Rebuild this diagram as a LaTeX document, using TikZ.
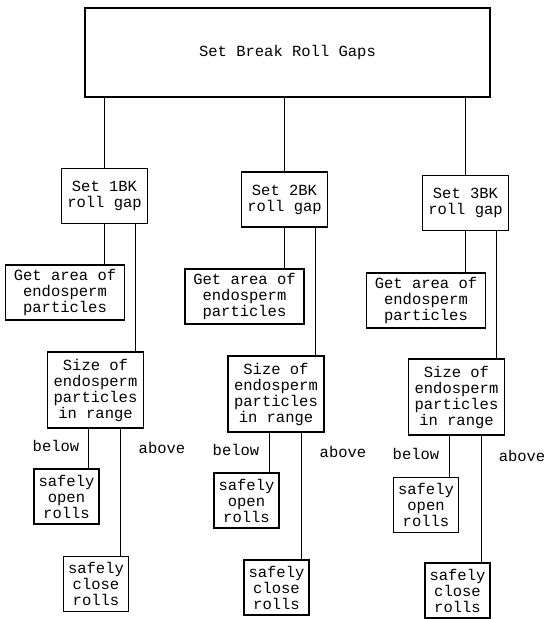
\documentclass[tikz,border=0pt]{standalone}
\usepackage{fontspec}
\usepackage{tikz}
\usetikzlibrary{calc}
\usetikzlibrary{positioning}
\newfontfamily\flowfont{Liberation Mono}
\tikzset{>=latex}
\tikzstyle{box} = [draw, line width=1.3pt, align=center, inner sep=2pt, font=\flowfont\fontsize{15.5}{16}\selectfont]
\tikzstyle{setbox} = [box, minimum width=86pt, minimum height=55pt]
\tikzstyle{getbox} = [box, minimum width=119pt, minimum height=55pt]
\tikzstyle{sizebox} = [box, minimum width=96pt, minimum height=76pt]
\tikzstyle{rollbox} = [box, minimum width=65pt, minimum height=55pt]
\tikzstyle{lab} = [font=\flowfont\fontsize{15.5}{16}\selectfont]
\tikzstyle{link} = [-, line width=1pt]

\begin{document}
\begin{tikzpicture}[x=1pt, y=-1pt]
\useasboundingbox (0, 0) rectangle (550, 619);
\node [box, minimum width=405pt, minimum height=89pt] (top) at (287.5, 52.5) {Set Break Roll Gaps};
% column 1
\node [setbox] (set1) at (104.5, 196) {Set 1BK\\roll gap};
\node [getbox] (get1) at (65, 292.5) {Get area of\\endosperm\\particles};
\node [sizebox] (size1) at (95.5, 390) {Size of\\endosperm\\particles\\in range};
\node [rollbox] (open1) at (66.5, 496.5) {safely\\open\\rolls};
\node [rollbox] (close1) at (96, 584) {safely\\close\\rolls};
\node [lab] (below1) at (56, 446) {below};
\node [lab] (above1) at (162, 448) {above};
% column 2
\node [setbox] (set2) at (284.5, 199.5) {Set 2BK\\roll gap};
\node [getbox] (get2) at (244.5, 296.5) {Get area of\\endosperm\\particles};
\node [sizebox] (size2) at (276, 394) {Size of\\endosperm\\particles\\in range};
\node [rollbox] (open2) at (246.5, 500.5) {safely\\open\\rolls};
\node [rollbox] (close2) at (276.5, 587.5) {safely\\close\\rolls};
\node [lab] (below2) at (236, 450) {below};
\node [lab] (above2) at (343, 452) {above};
% column 3
\node [setbox] (set3) at (465.5, 203) {Set 3BK\\roll gap};
\node [getbox] (get3) at (426, 300.5) {Get area of\\endosperm\\particles};
\node [sizebox] (size3) at (456.5, 397) {Size of\\endosperm\\particles\\in range};
\node [rollbox] (open3) at (426, 505) {safely\\open\\rolls};
\node [rollbox] (close3) at (457.5, 590.5) {safely\\close\\rolls};
\node [lab] (below3) at (416, 454) {below};
\node [lab] (above3) at (522, 456) {above};
% branch points
\coordinate (s1r) at ($(set1.south)+(31, 0)$);
\coordinate (s2r) at ($(set2.south)+(31, 0)$);
\coordinate (s3r) at ($(set3.south)+(31, 0)$);
\coordinate (z1l) at ($(size1.south)+(-7, 0)$);
\coordinate (z2l) at ($(size2.south)+(-7, 0)$);
\coordinate (z3l) at ($(size3.south)+(-7, 0)$);
\coordinate (z1r) at ($(size1.south)+(25, 0)$);
\coordinate (z2r) at ($(size2.south)+(25, 0)$);
\coordinate (z3r) at ($(size3.south)+(25, 0)$);
% links
\draw [link] (set1.north |- top.south) to (set1.north);
\draw [link] (set2.north |- top.south) to (set2.north);
\draw [link] (set3.north |- top.south) to (set3.north);
\draw [link] (set1.south) to (set1.south |- get1.north);
\draw [link] (set2.south) to (set2.south |- get2.north);
\draw [link] (set3.south) to (set3.south |- get3.north);
\draw [link] (s1r) to (s1r |- size1.north);
\draw [link] (s2r) to (s2r |- size2.north);
\draw [link] (s3r) to (s3r |- size3.north);
\draw [link] (z1l) to (z1l |- open1.north);
\draw [link] (z2l) to (z2l |- open2.north);
\draw [link] (z3l) to (z3l |- open3.north);
\draw [link] (z1r) to (z1r |- close1.north);
\draw [link] (z2r) to (z2r |- close2.north);
\draw [link] (z3r) to (z3r |- close3.north);
\end{tikzpicture}
\end{document}
